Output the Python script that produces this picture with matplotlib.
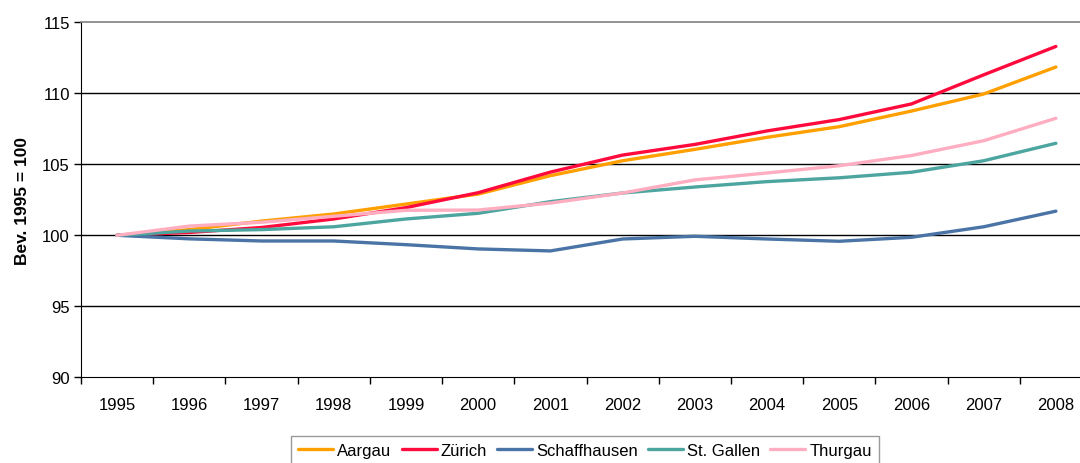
import matplotlib
matplotlib.use("Agg")
import matplotlib.pyplot as plt
import numpy as np

plt.rcParams['font.family'] = ['Liberation Sans', 'DejaVu Sans']

years = ["1995", "1996", "1997", "1998", "1999", "2000", "2001",
         "2002", "2003", "2004", "2005", "2006", "2007", "2008"]

aargau = [100.0, 100.4, 101.0, 101.5, 102.2, 102.9, 104.2,
          105.25, 106.05, 106.9, 107.65, 108.75, 109.95, 111.85]
zuerich = [100.0, 100.2, 100.55, 101.15, 101.95, 103.0, 104.45,
           105.65, 106.4, 107.35, 108.15, 109.25, 111.3, 113.3]
schaffhausen = [100.0, 99.75, 99.6, 99.6, 99.34, 99.04, 98.9,
                99.74, 99.93, 99.74, 99.58, 99.86, 100.6, 101.7]
st_gallen = [100.0, 100.3, 100.4, 100.6, 101.15, 101.55, 102.37,
             102.98, 103.4, 103.78, 104.05, 104.44, 105.25, 106.48]
thurgau = [100.0, 100.65, 100.92, 101.34, 101.76, 101.78, 102.27,
           102.98, 103.9, 104.39, 104.9, 105.62, 106.66, 108.24]

series = [
    ("Aargau", aargau, "#FFA000"),
    ("Zürich", zuerich, "#FF0A3C"),
    ("Schaffhausen", schaffhausen, "#4A74A6"),
    ("St. Gallen", st_gallen, "#4CA59F"),
    ("Thurgau", thurgau, "#FFADC0"),
]

fig = plt.figure(figsize=(10.8, 4.64), dpi=100)
ax = fig.add_axes([81/1080, 85.7/464, 1011/1080, 355/464])

x = np.arange(len(years))
for name, vals, col in series:
    ax.plot(x, vals, color=col, lw=2.4, label=name, solid_joinstyle='round',
            solid_capstyle='round')

ax.set_xlim(-0.5, len(years) - 0.5)
ax.set_ylim(90, 115)
ax.set_yticks([90, 95, 100, 105, 110, 115])
ax.set_xticks(x)
ax.set_xticklabels(years)
ax.set_xticks(np.arange(-0.5, len(years), 1.0), minor=True)
ax.tick_params(axis='x', which='major', length=0, pad=14, labelsize=12)
ax.tick_params(axis='x', which='minor', length=5, width=1, direction='out', color='black')
ax.tick_params(axis='y', length=5, width=1, direction='out', labelsize=12, pad=3)

for yv in [95, 100, 105, 110]:
    ax.axhline(yv, color='black', lw=1, zorder=0.5)

ax.spines['top'].set_color('#808080')
ax.spines['top'].set_linewidth(1.2)
ax.spines['right'].set_visible(False)
ax.spines['left'].set_color('black')
ax.spines['bottom'].set_color('black')

ax.set_ylabel("Bev. 1995 = 100", fontsize=12.5, fontweight='bold', labelpad=9)

leg = fig.legend(loc='upper center', bbox_to_anchor=(585/1080, 1 - 436.5/464),
                 ncol=5, fontsize=12, frameon=True, fancybox=False,
                 handlelength=2.1, handletextpad=0.25, columnspacing=0.6,
                 borderpad=0.45, borderaxespad=0)
leg.get_frame().set_edgecolor('#808080')
leg.get_frame().set_linewidth(1.0)

fig.savefig("out.png", dpi=100)
